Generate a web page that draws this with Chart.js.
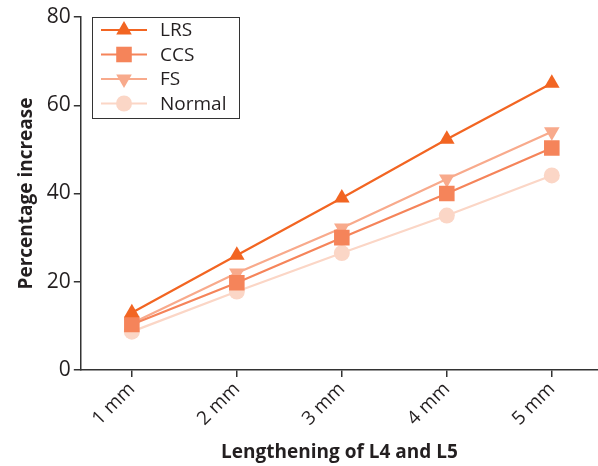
<!DOCTYPE html>
<html>
<head>
<meta charset="utf-8">
<script src="https://cdn.jsdelivr.net/npm/chart.js@4/dist/chart.umd.min.js"></script>
<style>
  html, body { margin: 0; padding: 0; background: #fff; }
  #wrap { width: 598px; height: 466px; position: relative; }
</style>
</head>
<body>
<div id="wrap"><canvas id="myChart"></canvas></div>
<script>
let labels = ["1 mm", "2 mm", "3 mm", "4 mm", "5 mm"];
let seriesNames = ["LRS", "CCS", "FS", "Normal"];
let lrs = [13, 26, 39, 52.3, 65];
let ccs = [10.3, 19.8, 30, 40, 50.3];
let fs = [10.6, 22, 32.2, 43.3, 54];
let normal = [8.7, 17.8, 26.5, 35, 44.1];
let yTicks = [0, 20, 40, 60, 80];

let colors = ['#f26522', '#f5845a', '#f8aa8c', '#fbd6c6'];
let markers = [
    {style: 'triangle', radius: 9, rotation: 0},
    {style: 'rect', radius: 11, rotation: 0},
    {style: 'triangle', radius: 9, rotation: 180},
    {style: 'circle', radius: 8, rotation: 0}
];
let fontFamily = "'Open Sans', 'Noto Sans', sans-serif";

document.addEventListener('DOMContentLoaded', e => {
    let ctx = document.getElementById('myChart').getContext('2d');
    let values = [lrs, ccs, fs, normal];
    let datasets = [];
    for (let i = 0; i < values.length; i++) {
        datasets.push(generateDataset(seriesNames[i], values[i], colors[i], markers[i]));
    }
    createChart(ctx, 'line', {datasets: datasets}, generateChartOptions());
});

function generateDataset(label, data, color, marker) {
    return {
        label: label,
        data: data.map((v, i) => ({x: i + 1, y: v})),
        borderColor: color,
        backgroundColor: color,
        borderWidth: 2.2,
        pointStyle: marker.style,
        pointRadius: marker.radius,
        pointRotation: marker.rotation,
        pointBorderWidth: 0,
        pointHoverRadius: marker.radius,
        tension: 0
    };
}

// legend box with line + marker samples, like the original figure
let boxLegend = {
    id: 'boxLegend',
    afterDatasetsDraw(chart) {
        let ctx = chart.ctx;
        let left = 92, top = 17, w = 147, h = 101;
        ctx.save();
        ctx.fillStyle = '#fff';
        ctx.fillRect(left, top, w, h);
        ctx.strokeStyle = '#333';
        ctx.lineWidth = 1;
        ctx.strokeRect(left + 0.5, top + 0.5, w, h);
        chart.data.datasets.forEach((ds, i) => {
            let y = top + 13 + i * 24.5;
            ctx.strokeStyle = ds.borderColor;
            ctx.lineWidth = 2;
            ctx.beginPath();
            ctx.moveTo(left + 9, y);
            ctx.lineTo(left + 55, y);
            ctx.stroke();
            ctx.fillStyle = ds.backgroundColor;
            Chart.helpers.drawPoint(ctx, {
                pointStyle: ds.pointStyle,
                rotation: ds.pointRotation,
                radius: ds.pointRadius,
                borderWidth: 0
            }, left + 32, y);
            ctx.fillStyle = '#231f20';
            ctx.font = "19px " + fontFamily;
            ctx.textBaseline = 'middle';
            ctx.fillText(ds.label, left + 68, y + 1);
        });
        ctx.restore();
    }
};

function generateChartOptions() {
    return {
        responsive: true,
        maintainAspectRatio: false,
        animation: false,
        layout: {autoPadding: false, padding: {top: 17, right: 0, bottom: 2, left: 15}},
        plugins: {
            legend: {display: false},
            tooltip: {enabled: false}
        },
        scales: {
            x: {
                type: 'linear',
                min: 0.514,
                max: 5.44,
                afterBuildTicks: axis => {
                    axis.ticks = labels.map((l, i) => ({value: i + 1}));
                },
                afterFit: axis => {
                    axis.paddingRight = 0;
                    axis.paddingLeft = 0;
                },
                ticks: {
                    callback: (v) => labels[v - 1],
                    minRotation: 45,
                    maxRotation: 45,
                    color: '#231f20',
                    font: {family: fontFamily, size: 19},
                    padding: 1
                },
                grid: {display: true, drawOnChartArea: false, drawTicks: true, tickLength: 7, color: '#333', lineWidth: 1.5},
                border: {display: true, color: '#333', width: 1.5},
                title: {
                    display: true,
                    text: 'Lengthening of L4 and L5',
                    color: '#231f20',
                    font: {family: fontFamily, size: 19, weight: 'bold'},
                    padding: {top: 10, bottom: 0}
                }
            },
            y: {
                min: 0,
                max: 80,
                afterBuildTicks: axis => {
                    axis.ticks = yTicks.map(v => ({value: v}));
                },
                ticks: {
                    color: '#231f20',
                    font: {family: fontFamily, size: 21},
                    padding: 3
                },
                grid: {display: true, drawOnChartArea: false, drawTicks: true, tickLength: 7, color: '#333', lineWidth: 1.5},
                border: {display: true, color: '#333', width: 1.5},
                title: {
                    display: true,
                    text: 'Percentage increase',
                    color: '#231f20',
                    font: {family: fontFamily, size: 19, weight: 'bold'},
                    padding: {top: 0, bottom: 6}
                }
            }
        }
    };
}

function createChart(ctx, type, data, options) {
    return new Chart(ctx, {
        type: type,
        data: data,
        options: options,
        plugins: [boxLegend]
    });
}
</script>
</body>
</html>
